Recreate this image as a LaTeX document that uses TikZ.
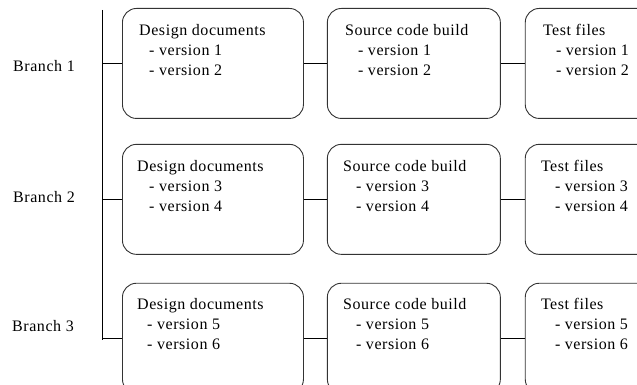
\documentclass[tikz,border=0pt]{standalone}
\usepackage{fontspec}
\setmainfont{Liberation Serif}[LetterSpace=3.5]
\usetikzlibrary{positioning}

\begin{document}
\begin{tikzpicture}[x=1pt, y=-1pt,
    filebox/.style={draw=black!80, line width=0.9pt, rounded corners=14pt,
        minimum height=110pt, inner sep=0pt, anchor=north west},
    boxtext/.style={align=left, inner sep=0pt, anchor=north west,
        font=\fontsize{16}{20}\selectfont},
    branch/.style={anchor=base west, inner sep=0pt,
        font=\fontsize{16}{20}\selectfont},
    link/.style={line width=0.8pt}]
    \useasboundingbox (0,0) rectangle (637,385);
    \clip (0,0) rectangle (637,385);

    % branch 1
    \node[filebox, minimum width=181pt] (des1) at (122,8) {};
    \node[filebox, minimum width=173pt, right=23pt of des1] (src1) {};
    \node[filebox, minimum width=180pt, right=24pt of src1] (tst1) {};
        \node[boxtext, below right=16pt and 17pt of des1.north west] (des1txt)
            {Design documents\\\hspace*{10pt}- version 1\\\hspace*{10pt}- version 2};
        \node[boxtext, below right=16pt and 18pt of src1.north west] (src1txt)
            {Source code build\\\hspace*{13pt}- version 1\\\hspace*{13pt}- version 2};
        \node[boxtext, below right=16pt and 18pt of tst1.north west] (tst1txt)
            {Test files\\\hspace*{13pt}- version 1\\\hspace*{13pt}- version 2};

    % branch 2
    \node[filebox, minimum width=181pt, below=25pt of des1] (des2) {};
    \node[filebox, minimum width=173pt, right=23pt of des2] (src2) {};
    \node[filebox, minimum width=180pt, right=24pt of src2] (tst2) {};
        \node[boxtext, below right=16pt and 15pt of des2.north west] (des2txt)
            {Design documents\\\hspace*{12pt}- version 3\\\hspace*{12pt}- version 4};
        \node[boxtext, below right=16pt and 16pt of src2.north west] (src2txt)
            {Source code build\\\hspace*{13pt}- version 3\\\hspace*{13pt}- version 4};
        \node[boxtext, below right=16pt and 16pt of tst2.north west] (tst2txt)
            {Test files\\\hspace*{14pt}- version 3\\\hspace*{14pt}- version 4};

    % branch 3
    \node[filebox, minimum width=181pt, below=28pt of des2] (des3) {};
    \node[filebox, minimum width=173pt, right=23pt of des3] (src3) {};
    \node[filebox, minimum width=180pt, right=24pt of src3] (tst3) {};
        \node[boxtext, below right=15pt and 15pt of des3.north west] (des3txt)
            {Design documents\\\hspace*{10pt}- version 5\\\hspace*{10pt}- version 6};
        \node[boxtext, below right=15pt and 16pt of src3.north west] (src3txt)
            {Source code build\\\hspace*{13pt}- version 5\\\hspace*{13pt}- version 6};
        \node[boxtext, below right=15pt and 16pt of tst3.north west] (tst3txt)
            {Test files\\\hspace*{14pt}- version 5\\\hspace*{14pt}- version 6};

    % labels on the left
    \node[branch] (br1) at (13,72) {Branch 1};
    \node[branch] (br2) at (13,202) {Branch 2};
    \node[branch] (br3) at (12,331) {Branch 3};

    % trunk and links
    \coordinate (trunktop) at (102,10);
    \coordinate (trunkend) at (102,340);
    \draw[link] (trunktop) -- (trunkend);
    \draw[link] (des1.west -| trunktop) -- (des1.west);
    \draw[link] (des2.west -| trunktop) -- (des2.west);
    \draw[link] (des3.west -| trunktop) -- (des3.west);

    \draw[link] (des1.east) -- (src1.west);
    \draw[link] (src1.east) -- (tst1.west);
    \draw[link] (des2.east) -- (src2.west);
    \draw[link] (src2.east) -- (tst2.west);
    \draw[link] (des3.east) -- (src3.west);
    \draw[link] (src3.east) -- (tst3.west);
\end{tikzpicture}
\end{document}
